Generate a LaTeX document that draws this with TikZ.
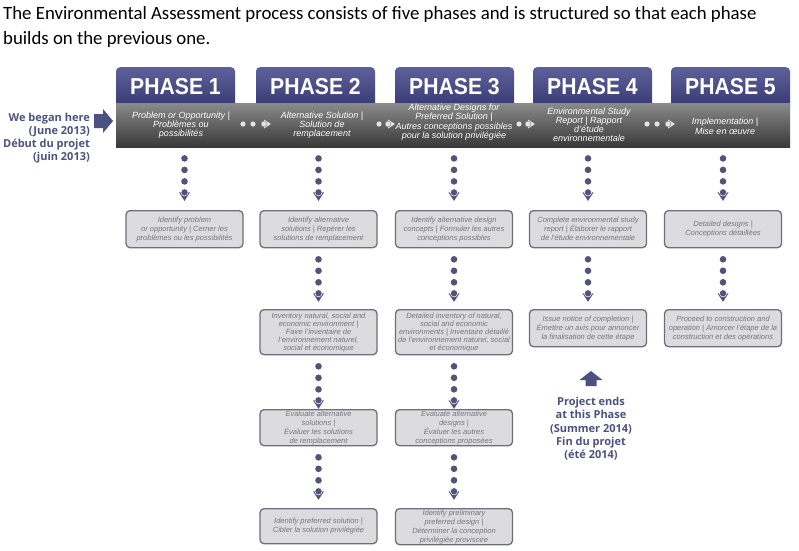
\documentclass[tikz,border=0pt]{standalone}
\usepackage{fontspec}
\setmainfont{Liberation Sans}
\newfontfamily\titlefont{Carlito}
\newfontfamily\notefont{Open Sans}
\usetikzlibrary{positioning,calc,decorations.markings}
\definecolor{tabtop}{HTML}{5D609A}
\definecolor{tabbot}{HTML}{33366E}
\definecolor{bandtop}{HTML}{8A8A8A}
\definecolor{bandbot}{HTML}{383838}
\definecolor{dotc}{HTML}{50547A}
\definecolor{gapc}{HTML}{E4E4E4}
\definecolor{notec}{HTML}{4B5280}
\definecolor{boxfill}{HTML}{DCDCDF}
\definecolor{boxline}{HTML}{6E6E7E}
\definecolor{boxtext}{HTML}{75757E}
\begin{document}
\begin{tikzpicture}[x=1pt,y=-1pt,
  phasetab/.style={anchor=north,minimum width=119pt,minimum height=44pt,inner sep=0pt,
    rounded corners=4pt,top color=tabtop,bottom color=tabbot,text=white,text depth=5pt,
    font=\bfseries\fontsize{23}{23}\selectfont},
  bandbar/.style={anchor=north west,minimum width=674pt,minimum height=44pt,inner sep=0pt,
    top color=bandtop,bottom color=bandbot},
  phasetext/.style={text=white,align=center,inner sep=0pt,
    font=\itshape\fontsize{9}{9}\selectfont},
  stepbox/.style={anchor=north,draw=boxline,fill=boxfill,line width=1.3pt,rounded corners=4pt,
    minimum width=117pt,minimum height=37pt,inner sep=1pt,align=center,text=boxtext,
    font=\itshape\fontsize{7.5}{9}\selectfont},
  notetext/.style={text=notec,inner sep=0pt,font=\notefont\bfseries\fontsize{11}{13.3}\selectfont},
  dotlink/.style={postaction={decorate,decoration={markings,
    mark=at position 11pt with {\fill[dotc] (0,0) circle (3.3pt);},
    mark=at position 22.5pt with {\fill[dotc] (0,0) circle (3.3pt);},
    mark=at position 34pt with {\fill[dotc] (0,0) circle (3.3pt);},
    mark=at position 45pt with {\fill[dotc] (0pt,-5.5pt) -- (8.5pt,0pt) -- (0pt,5.5pt) -- cycle;
      \filldraw[fill=dotc,draw=white,line width=0.5pt] (0,0) circle (3.6pt);}}}},
  gaptwo/.style={postaction={decorate,decoration={markings,
    mark=at position 3pt with {\fill[gapc] (0,0) circle (2.6pt);},
    mark=at position 13pt with {\fill[gapc] (0,0) circle (2.6pt);},
    mark=at position 24pt with {\fill[gapc] (0pt,-4.5pt) -- (7pt,0pt) -- (0pt,4.5pt) -- cycle;
      \filldraw[fill=gapc,draw=gray,line width=0.4pt] (0,0) circle (2.9pt);}}}},
  gapone/.style={postaction={decorate,decoration={markings,
    mark=at position 3pt with {\fill[gapc] (0,0) circle (2.6pt);},
    mark=at position 12pt with {\fill[gapc] (0pt,-4.5pt) -- (7pt,0pt) -- (0pt,4.5pt) -- cycle;
      \filldraw[fill=gapc,draw=gray,line width=0.4pt] (0,0) circle (2.9pt);}}}}]
\useasboundingbox (0,0) rectangle (799,550);
\fill[white] (0,0) rectangle (799,550);
\node[anchor=north west,inner sep=0pt,align=left,font=\titlefont\fontsize{18.8}{24.5}\selectfont] (title) at (3,6.5)
  {The Environmental Assessment process consists of five phases and is structured so that each phase\\builds on the previous one.};

\node[phasetab] (ph1) at (175.5,67) {\scalebox{0.92}[1]{PHASE 1}};
\node[phasetab] (ph2) at (315.5,67) {\scalebox{0.92}[1]{PHASE 2}};
\node[phasetab] (ph3) at (454.5,67) {\scalebox{0.92}[1]{PHASE 3}};
\node[phasetab] (ph4) at (592.5,67) {\scalebox{0.92}[1]{PHASE 4}};
\node[phasetab] (ph5) at (730.5,67) {\scalebox{0.92}[1]{PHASE 5}};
\node[bandbar] (band) at (116,103) {};

\node[phasetext] (t1) at (181,125) {Problem or Opportunity |\\Problèmes ou\\possibilités};
\node[phasetext] (t2) at (322,125) {Alternative Solution |\\Solution de\\remplacement};
\node[phasetext,font=\itshape\fontsize{9}{7.8}\selectfont] (t3) at (454,122)
  {Alternative Designs for\\Preferred Solution |\\Autres conceptions possibles\\pour la solution privilégiée};
\node[phasetext] (t4) at (589,125) {Environmental Study\\Report | Rapport\\d'étude\\environnementale};
\node[phasetext,font=\itshape\fontsize{9}{9.7}\selectfont] (t5) at (725,126) {Implementation |\\Mise en œuvre};

\foreach \n/\x in {1/240,2/376,3/516,4/644}
  \coordinate (g\n) at (\x,124);
\path[gaptwo] (g1) -- ++(32,0);
\path[gapone] (g2) -- ++(22,0);
\path[gapone] (g3) -- ++(22,0);
\path[gaptwo] (g4) -- ++(32,0);

\node[notetext,align=right,anchor=north east] (began) at (90,112.5)
  {We began here\\(June 2013)\\Début du projet\\(juin 2013)};
\fill[notec] (94,114) -- (103,114) -- (103,109) -- (113,121) -- (103,133) -- (103,128) -- (94,128) -- cycle;

\node[stepbox] (b11) at (184.5,210) {Identify problem\\or opportunity | Cerner les\\problèmes ou les possibilités};
\node[stepbox] (b21) at (318.5,210) {Identify alternative\\solutions | Repérer les\\solutions de remplacement};
\node[stepbox] (b31) at (454,210) {Identify alternative design\\concepts | Formuler les autres\\conceptions possibles};
\node[stepbox] (b41) at (588,210) {Complete environmental study\\report | Élaborer le rapport\\de l'étude environnementale};
\node[stepbox] (b51) at (723,210) {Detailed designs |\\Conceptions détaillées};

\node[stepbox,minimum height=45pt,font=\itshape\fontsize{7.5}{8}\selectfont] (b22) at (318.5,309)
  {Inventory natural, social and\\economic environment |\\Faire l'inventaire de\\l'environnement naturel,\\social et économique};
\node[stepbox,minimum height=45pt,font=\itshape\fontsize{7.5}{8}\selectfont] (b32) at (454,309)
  {Detailed inventory of natural,\\social and economic\\environments | Inventaire détaillé\\de l'environnement naturel, social\\et économique};
\node[stepbox] (b42) at (588,309) {Issue notice of completion |\\Émettre un avis pour annoncer\\la finalisation de cette étape};
\node[stepbox] (b52) at (723,309) {Proceed to construction and\\operation | Amorcer l'étape de la\\construction et des opérations};

\node[stepbox,minimum height=36pt] (b23) at (318.5,409) {Evaluate alternative\\solutions |\\Évaluer les solutions\\de remplacement};
\node[stepbox,minimum height=36pt] (b33) at (454,409) {Evaluate alternative\\designs |\\Évaluer les autres\\conceptions proposées};

\node[stepbox,minimum height=35pt] (b24) at (318.5,508) {Identify preferred solution |\\Cibler la solution privilégiée};
\node[stepbox,minimum height=35pt] (b34) at (454,508) {Identify preliminary\\preferred design |\\Déterminer la conception\\privilégiée provisoire};

\foreach \b in {b11,b21,b31,b41,b51}
  \path[dotlink] (\b.north |- band.south) -- (\b.north);
\foreach \a/\b in {b21/b22,b31/b32,b41/b42,b51/b52,b22/b23,b32/b33,b23/b24,b33/b34}
  \path[dotlink] (\a.south) -- (\b.north);

\node[notetext,align=center,anchor=north] (ends) at (591,397)
  {Project ends\\at this Phase\\(Summer 2014)\\Fin du projet\\(été 2014)};
\fill[notec] ($(ends.north)+(0,-26)$) -- ++(11.5,9) -- ++(-6,0) -- ++(0,6) -- ++(-11,0) -- ++(0,-6) -- ++(-6,0) -- cycle;
\end{tikzpicture}
\end{document}
